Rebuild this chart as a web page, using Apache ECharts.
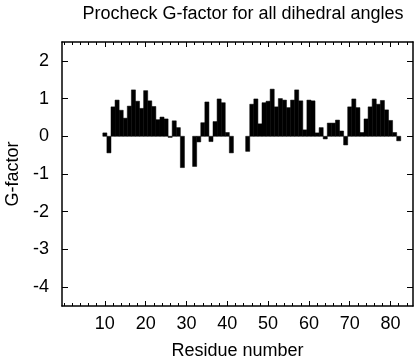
<!DOCTYPE html>
<html>
<head>
<meta charset="utf-8">
<script src="https://cdn.jsdelivr.net/npm/echarts@6/dist/echarts.min.js"></script>
<style>
html,body{margin:0;padding:0;background:#fff;}
#chart{width:416px;height:360px;}
</style>
</head>
<body>
<div id="chart"></div>
<script>
// Residue numbers and their G-factor values
var residues = [10,11,12,13,14,15,16,17,18,19,20,21,22,23,24,25,26,27,28,29,
  32,33,34,35,36,37,38,39,40,41,
  45,46,47,48,49,50,51,52,53,54,55,56,57,58,59,60,61,62,63,64,65,66,67,68,69,70,
  71,72,73,74,75,76,77,78,79,80,81,82];
var gFactor = [0.09,-0.44,0.78,0.96,0.69,0.48,0.80,1.23,0.93,0.74,1.21,0.94,0.79,0.44,0.51,0.46,-0.03,0.41,0.23,-0.83,
  -0.80,-0.15,0.36,0.91,-0.14,0.39,0.99,0.89,0.10,-0.44,
  -0.40,0.85,0.99,0.33,0.89,0.93,1.25,0.78,1.00,0.96,0.76,0.96,1.23,0.94,0.17,0.96,0.94,0.09,0.23,-0.07,
  0.35,0.35,0.43,0.14,-0.23,0.78,0.99,0.76,0.10,0.46,0.78,0.99,0.85,0.95,0.70,0.42,0.10,-0.12];
var xMajorTicks = [10,20,30,40,50,60,70,80];
var xMinorTicks = [0,2,4,6,8,10,12,14,16,18,20,22,24,26,28,30,32,34,36,38,40,42,44,46,48,50,52,54,56,58,60,62,64,66,68,70,72,74,76,78,80,82,84];
var yTicks = [-4,-3,-2,-1,0,1,2];
var xRange = [-0.5, 85.5];
var yRange = [-4.5, 2.5];
var titleText = 'Procheck G-factor for all dihedral angles';
var xName = 'Residue number';
var yName = 'G-factor';

var FONT = 'Liberation Sans, Arial, Helvetica, sans-serif';
var data = residues.map(function(r, i){ return [r, gFactor[i]]; });

function xAx(pos, ticks, len, showLine, showLabel, extra){
  var a = {
    type: 'value', position: pos, min: xRange[0], max: xRange[1],
    axisLine: {show: showLine, onZero: false, lineStyle: {color: '#000', width: 1.5}},
    axisTick: {show: true, inside: true, length: len, customValues: ticks, lineStyle: {color: '#000', width: 1}},
    axisLabel: {show: showLabel, customValues: ticks, color: '#000', fontSize: 18, fontFamily: FONT, margin: 9},
    splitLine: {show: false}
  };
  if (extra) for (var k in extra) a[k] = extra[k];
  return a;
}
function yAx(pos, showLabel, extra){
  var a = {
    type: 'value', position: pos, min: yRange[0], max: yRange[1],
    axisLine: {show: true, onZero: false, lineStyle: {color: '#000', width: 1.5}},
    axisTick: {show: true, inside: true, length: 6, customValues: yTicks, lineStyle: {color: '#000', width: 1}},
    axisLabel: {show: showLabel, customValues: yTicks, color: '#000', fontSize: 18, fontFamily: FONT, margin: 13},
    splitLine: {show: false}
  };
  if (extra) for (var k in extra) a[k] = extra[k];
  return a;
}

var chart = echarts.init(document.getElementById('chart'), null, {renderer: 'canvas'});
chart.setOption({
  animation: false,
  backgroundColor: '#fff',
  title: {
    text: titleText, left: 238, top: 0, textAlign: 'center',
    textStyle: {color: '#000', fontSize: 18, fontWeight: 'normal', fontFamily: FONT}
  },
  grid: {left: 62, right: 3, top: 42, bottom: 54, containLabel: false, outerBoundsMode: 'none'},
  xAxis: [
    xAx('bottom', xMajorTicks, 5, true, true, {
      name: xName, nameLocation: 'middle', nameGap: 36,
      nameTextStyle: {color: '#000', fontSize: 18, fontFamily: FONT}
    }),
    xAx('bottom', xMinorTicks, 3, false, false),
    xAx('top', xMajorTicks, 5, true, false),
    xAx('top', xMinorTicks, 3, false, false)
  ],
  yAxis: [
    yAx('left', true, {
      name: yName, nameLocation: 'middle', nameGap: 40, nameRotate: 90,
      nameTextStyle: {color: '#000', fontSize: 18, fontFamily: FONT}
    }),
    yAx('right', false)
  ],
  series: [{
    type: 'custom',
    xAxisIndex: 0, yAxisIndex: 0,
    data: data,
    renderItem: function(params, api){
      var x = api.value(0), y = api.value(1);
      var p1 = api.coord([x - 0.5, Math.max(y, 0)]);
      var p2 = api.coord([x + 0.5, Math.min(y, 0)]);
      return {
        type: 'rect',
        shape: {x: p1[0], y: p1[1], width: p2[0] - p1[0], height: p2[1] - p1[1]},
        style: {fill: '#000', stroke: '#000', lineWidth: 0.5}
      };
    }
  }]
});
</script>
</body>
</html>
